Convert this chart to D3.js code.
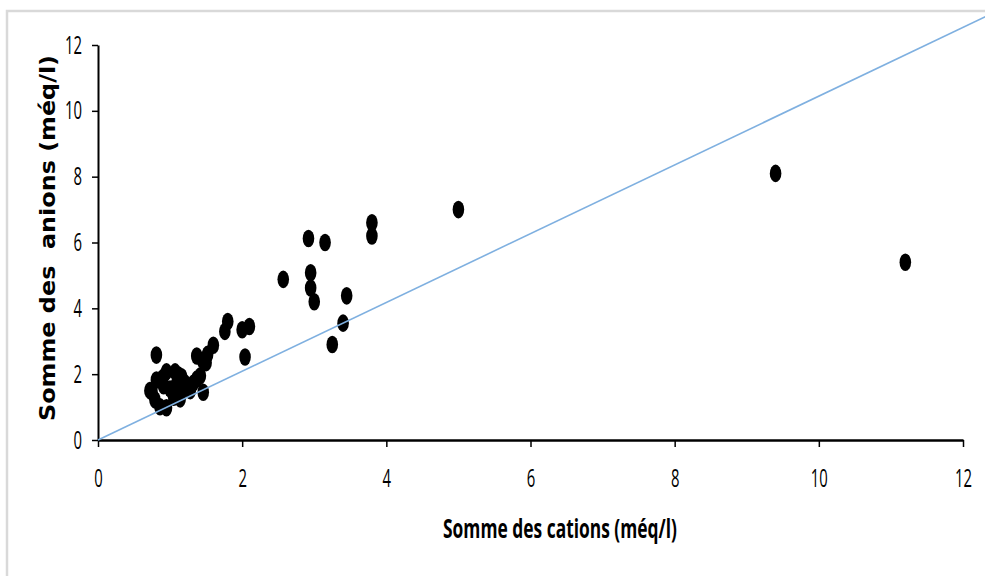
<!DOCTYPE html>
<html>
<head>
<meta charset="utf-8">
<script src="https://cdn.jsdelivr.net/npm/d3@7"></script>
<style>
  html, body { margin: 0; padding: 0; background: #ffffff; }
  svg { display: block; }
</style>
</head>
<body>
<svg id="chart" width="985" height="576"></svg>
<script>
// ---- data ----
const cations = [9.4, 11.2, 5.0, 3.8, 3.8, 2.92, 3.15, 2.57, 2.95, 2.95, 3.0, 3.45, 3.4, 3.25,
  2.1, 2.0, 2.04, 1.8, 1.76, 1.6, 1.52, 1.45, 1.37, 0.81, 1.5, 0.95, 1.12, 0.81, 0.72, 0.79,
  0.86, 0.95, 1.05, 1.0, 1.18, 1.28, 1.32, 1.37, 1.46, 1.42, 0.91, 1.14, 0.9, 1.2, 1.08, 0.75, 1.07, 1.16];
const anions = [8.1, 5.4, 7.0, 6.6, 6.2, 6.12, 6.0, 4.88, 5.08, 4.62, 4.2, 4.38, 3.55, 2.9,
  3.45, 3.35, 2.52, 3.6, 3.3, 2.88, 2.6, 2.42, 2.55, 2.58, 2.35, 2.07, 1.97, 1.82, 1.5, 1.22,
  1.01, 0.98, 1.3, 1.55, 1.55, 1.5, 1.72, 1.85, 1.45, 1.95, 1.65, 1.25, 1.9, 1.75, 1.65, 1.45, 2.07, 1.92];
const lineX = [0, 12.31];
const lineY = [0, 12.86];
const xTicks = [0, 2, 4, 6, 8, 10, 12];
const yTicks = [0, 2, 4, 6, 8, 10, 12];
const xTitle = "Somme des cations (méq/l)";
const yTitle = "Somme des  anions (méq/l)";

// ---- chart ----
const svg = d3.select("#chart");

// outer frame
svg.append("path")
  .attr("d", "M7,576 V11 H985")
  .attr("fill", "none")
  .attr("stroke", "#d9d9d9")
  .attr("stroke-width", 2.5);

const x = d3.scaleLinear().domain([0, 12]).range([98, 963]);
const y = d3.scaleLinear().domain([0, 12]).range([440, 45]);

const tickFont = "'Open Sans', 'Liberation Sans', sans-serif";

// x axis
const gx = svg.append("g")
  .attr("transform", `translate(0,${y(0)})`)
  .call(d3.axisBottom(x).tickValues(xTicks).tickFormat(d3.format("d"))
    .tickSize(7).tickSizeOuter(0).tickPadding(22));
gx.select(".domain").attr("stroke", "#000").attr("stroke-width", 2.5);
gx.selectAll(".tick line").attr("stroke", "#000").attr("stroke-width", 1.5);
gx.selectAll(".tick text")
  .attr("font-family", tickFont).attr("font-size", 25).attr("fill", "#000")
  .attr("textLength", d => String(d).length * 8.5)
  .attr("lengthAdjust", "spacingAndGlyphs");

// y axis
const gy = svg.append("g")
  .attr("transform", `translate(${x(0)},0)`)
  .call(d3.axisLeft(y).tickValues(yTicks).tickFormat(d3.format("d"))
    .tickSize(6).tickSizeOuter(0).tickPadding(10));
gy.select(".domain").attr("stroke", "#000").attr("stroke-width", 2);
gy.selectAll(".tick line").attr("stroke", "#000").attr("stroke-width", 1.5);
gy.selectAll(".tick text")
  .attr("font-family", tickFont).attr("font-size", 25).attr("fill", "#000")
  .attr("textLength", d => String(d).length * 8.5)
  .attr("lengthAdjust", "spacingAndGlyphs");

// points
const pts = cations.map((c, i) => ({ c, a: anions[i] }));
svg.append("g").selectAll("ellipse").data(pts).join("ellipse")
  .attr("cx", d => x(d.c))
  .attr("cy", d => y(d.a))
  .attr("rx", 5.8)
  .attr("ry", 8.8)
  .attr("fill", "#000");

// 1:1 line
const linePts = lineX.map((v, i) => [v, lineY[i]]);
svg.append("path")
  .attr("d", d3.line().x(d => x(d[0])).y(d => y(d[1]))(linePts))
  .attr("fill", "none")
  .attr("stroke", "#7fb0e0")
  .attr("stroke-width", 1.6);

// axis titles
svg.append("text")
  .attr("x", 560).attr("y", 538)
  .attr("text-anchor", "middle")
  .attr("font-family", tickFont)
  .attr("font-weight", "bold")
  .attr("font-size", 27)
  .attr("textLength", 234)
  .attr("lengthAdjust", "spacingAndGlyphs")
  .attr("fill", "#000")
  .text(xTitle);

svg.append("text")
  .attr("transform", "translate(55,238) rotate(-90)")
  .attr("text-anchor", "middle")
  .attr("font-family", "'DejaVu Sans', sans-serif")
  .attr("font-weight", "bold")
  .attr("font-size", 22)
  .attr("textLength", 366)
  .attr("lengthAdjust", "spacingAndGlyphs")
  .attr("fill", "#000")
  .style("white-space", "pre")
  .text(yTitle);
</script>
</body>
</html>
